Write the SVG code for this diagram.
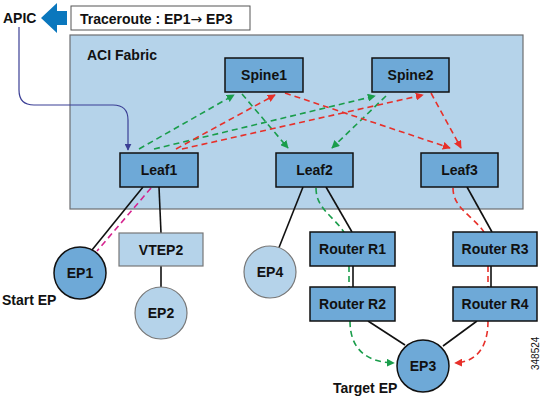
<svg xmlns="http://www.w3.org/2000/svg" width="543" height="404" viewBox="0 0 543 404">
<defs>
<style>
text{font-family:"Liberation Sans",Arial,sans-serif;font-weight:bold;fill:#111;}
.lbl{font-size:14px;text-anchor:middle;}
.box{fill:#6ea9d7;stroke:#111;stroke-width:1.5;}
.lbox{fill:#b5d3ea;stroke:#777;stroke-width:1.2;}
.solid{stroke:#111;stroke-width:1.6;fill:none;}
.g{stroke:#1a9d4b;stroke-width:1.6;fill:none;stroke-dasharray:6,4;}
.r{stroke:#e7302a;stroke-width:1.6;fill:none;stroke-dasharray:6,4;}
.m{stroke:#d6248f;stroke-width:1.6;fill:none;stroke-dasharray:6,4;}
</style>
<marker id="ag" viewBox="0 0 10 10" refX="9" refY="5" markerWidth="8" markerHeight="8" orient="auto" markerUnits="userSpaceOnUse"><path d="M0,0 L10,5 L0,10 z" fill="#1a9d4b"/></marker>
<marker id="ar" viewBox="0 0 10 10" refX="9" refY="5" markerWidth="8" markerHeight="8" orient="auto" markerUnits="userSpaceOnUse"><path d="M0,0 L10,5 L0,10 z" fill="#e7302a"/></marker>
<marker id="ab" viewBox="0 0 10 10" refX="9" refY="5" markerWidth="7" markerHeight="7" orient="auto" markerUnits="userSpaceOnUse"><path d="M0,0 L10,5 L0,10 z" fill="#3b3f95"/></marker>
</defs>
<rect width="543" height="404" fill="#fff"/>

<g id="fabric">
<rect x="70" y="35" width="453" height="174" fill="#b5d3ea" stroke="#6d6e71" stroke-width="1.2"/>
<text x="87" y="60" font-size="14">ACI Fabric</text>
</g>

<g id="apic">
<text x="3" y="23" font-size="14">APIC</text>
<polygon points="41,18 57,3 57,11 67,11 67,25 57,25 57,33" fill="#0a77bd"/>
</g>

<g id="traceroute">
<rect x="71" y="6" width="179" height="24" fill="#fff" stroke="#555" stroke-width="1"/>
<text x="80" y="24" font-size="14">Traceroute : EP1<tspan font-family="'DejaVu Sans',sans-serif" font-weight="normal" style="font-weight:normal">→</tspan> EP3</text>
</g>

<g id="connectors">
<path d="M19,27 L19,90 Q19,105 34,105 L113,105 Q128,105 128,120 L128,150" stroke="#3b3f95" stroke-width="1.2" fill="none" marker-end="url(#ab)"/>
<line class="solid" x1="143" y1="187" x2="92" y2="250"/>
<line class="solid" x1="159" y1="187" x2="161" y2="233"/>
<line class="solid" x1="161" y1="266" x2="161" y2="287"/>
<line class="solid" x1="303" y1="187" x2="278" y2="250"/>
<line class="solid" x1="326" y1="187" x2="352" y2="232"/>
<line class="solid" x1="353" y1="266" x2="353" y2="287"/>
<line class="solid" x1="368" y1="321" x2="405" y2="345"/>
<line class="solid" x1="467" y1="187" x2="492" y2="232"/>
<line class="solid" x1="491" y1="266" x2="491" y2="287"/>
<line class="solid" x1="477" y1="321" x2="443" y2="346"/>

<line class="m" x1="151" y1="188" x2="97" y2="251"/>

<line class="g" x1="139" y1="149" x2="234" y2="95" marker-end="url(#ag)"/>
<line class="g" x1="154" y1="149" x2="375" y2="96" marker-end="url(#ag)"/>
<line class="g" x1="242" y1="94" x2="288" y2="148" marker-end="url(#ag)"/>
<line class="g" x1="386" y1="96" x2="332" y2="148" marker-end="url(#ag)"/>
<path class="g" d="M316,188 C316,208 332,215 344,232"/>
<line class="g" x1="349" y1="266" x2="349" y2="287"/>
<path class="g" d="M350,321 C350,348 365,362 394,363" marker-end="url(#ag)"/>

<line class="r" x1="176" y1="149" x2="275" y2="95" marker-end="url(#ar)"/>
<line class="r" x1="182" y1="149" x2="423" y2="95" marker-end="url(#ar)"/>
<line class="r" x1="285" y1="93" x2="450" y2="148" marker-end="url(#ar)"/>
<line class="r" x1="431" y1="93" x2="461" y2="148" marker-end="url(#ar)"/>
<path class="r" d="M453,188 C453,208 472,215 484,232"/>
<line class="r" x1="488" y1="266" x2="488" y2="287"/>
<path class="r" d="M488,321 C488,348 476,362 455,363" marker-end="url(#ar)"/>
</g>

<g id="spine1"><rect class="box" x="225" y="58" width="78" height="34"/><text class="lbl" x="264" y="80">Spine1</text></g>
<g id="spine2"><rect class="box" x="372" y="58" width="77" height="34"/><text class="lbl" x="410.5" y="80">Spine2</text></g>
<g id="leaf1"><rect class="box" x="120" y="153" width="78" height="34"/><text class="lbl" x="159" y="175">Leaf1</text></g>
<g id="leaf2"><rect class="box" x="276" y="153" width="77" height="34"/><text class="lbl" x="314.5" y="175">Leaf2</text></g>
<g id="leaf3"><rect class="box" x="421" y="153" width="77" height="34"/><text class="lbl" x="459.5" y="175">Leaf3</text></g>
<g id="vtep2"><rect class="lbox" x="119" y="233" width="84" height="33"/><text class="lbl" x="161" y="255">VTEP2</text></g>
<g id="r1"><rect class="box" x="310" y="232" width="85" height="34"/><text class="lbl" x="352.5" y="254">Router R1</text></g>
<g id="r2"><rect class="box" x="310" y="287" width="85" height="34"/><text class="lbl" x="352.5" y="309">Router R2</text></g>
<g id="r3"><rect class="box" x="453" y="232" width="84" height="34"/><text class="lbl" x="495" y="254">Router R3</text></g>
<g id="r4"><rect class="box" x="453" y="287" width="84" height="34"/><text class="lbl" x="495" y="309">Router R4</text></g>
<g id="ep1"><circle class="box" cx="80" cy="273" r="26"/><text class="lbl" x="80" y="278">EP1</text></g>
<g id="ep2"><circle class="lbox" cx="161" cy="313" r="26"/><text class="lbl" x="161" y="318">EP2</text></g>
<g id="ep4"><circle class="lbox" cx="270" cy="272" r="26"/><text class="lbl" x="270" y="277">EP4</text></g>
<g id="ep3"><circle class="box" cx="423" cy="366" r="26"/><text class="lbl" x="423" y="371">EP3</text></g>

<text x="2" y="305" font-size="14">Start EP</text>
<text x="333" y="393" font-size="14">Target EP</text>
<text transform="translate(539,370) rotate(-90)" font-size="10" style="font-weight:normal">348524</text>
</svg>
